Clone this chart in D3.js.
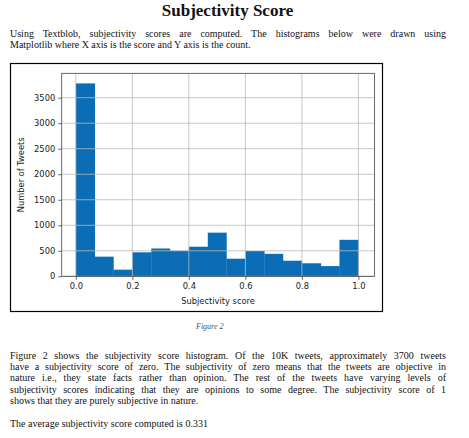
<!DOCTYPE html>
<html lang="en">
  <head>
    <script src="https://d3js.org/d3.v7.min.js"></script>
    <style>
      body {
        margin: 0;
        background: #fff;
        width: 469px;
        height: 438px;
        overflow: hidden;
        position: relative;
        font-family: "Liberation Serif", "Times New Roman", serif;
        color: #111;
      }
      svg {
        position: absolute;
        left: 0;
        top: 0;
      }
      .title {
        position: absolute;
        left: 0;
        width: 455px;
        text-align: center;
        font-weight: bold;
        font-size: 17px;
        line-height: 17px;
        top: 2px;
      }
      .para {
        position: absolute;
        left: 10px;
        width: 436px;
        font-size: 10px;
        line-height: 11.2px;
      }
      .para div {
        text-align: justify;
        text-align-last: justify;
        white-space: nowrap;
      }
      .para div.last {
        text-align-last: left;
      }
      .caption {
        position: absolute;
        left: 196px;
        top: 322px;
        font-size: 8px;
        font-style: italic;
        color: #44546a;
      }
    </style>
  </head>

  <body>
    <svg width="469" height="438"></svg>
    <div class="title">Subjectivity Score</div>
    <div class="para" id="p1"></div>
    <div class="caption">Figure 2</div>
    <div class="para" id="p2"></div>
    <div class="para" id="p3"></div>
    <script>
      // histogram bins (left edges + last right edge) and tweet counts
      var binEdges = [0.0, 0.067, 0.133, 0.2, 0.267, 0.333, 0.4, 0.467, 0.533, 0.6, 0.667, 0.733, 0.8, 0.867, 0.933, 1.0];
      var counts = [3780, 385, 130, 470, 545, 500, 580, 855, 345, 495, 440, 305, 255, 200, 715];
      var xTicks = [0.0, 0.2, 0.4, 0.6, 0.8, 1.0];
      var yTicks = [0, 500, 1000, 1500, 2000, 2500, 3000, 3500];

      var para1 = [
        "Using Textblob, subjectivity scores are computed. The histograms below were drawn using",
        "Matplotlib where X axis is the score and Y axis is the count."
      ];
      var para2 = [
        "Figure 2 shows the subjectivity score histogram. Of the 10K tweets, approximately 3700 tweets",
        "have a subjectivity score of zero. The subjectivity of zero means that the tweets are objective in",
        "nature i.e., they state facts rather than opinion. The rest of the tweets have varying levels of",
        "subjectivity scores indicating that they are opinions to some degree. The subjectivity score of 1",
        "shows that they are purely subjective in nature."
      ];
      var para3 = ["The average subjectivity score computed is 0.331"];

      //write the text lines, each line justified on its own
      function fillPara(id, lines, topPx) {
        d3.select(id)
          .style("top", topPx + "px")
          .selectAll("div")
          .data(lines)
          .enter()
          .append("div")
          .attr("class", function (d, i) {
            return i == lines.length - 1 ? "last" : "";
          })
          .text(function (d) {
            return d;
          });
      }
      fillPara("#p1", para1, 28);
      fillPara("#p2", para2, 350);
      fillPara("#p3", para3, 418);

      var svg = d3.select("svg");

      //black frame around the figure
      svg
        .append("rect")
        .attr("x", 10.5)
        .attr("y", 63.5)
        .attr("width", 372)
        .attr("height", 248)
        .attr("fill", "none")
        .attr("stroke", "#000")
        .attr("stroke-width", 1.2);

      //plot area (named so they don't clash with window.top)
      var pLeft = 61.7,
        pRight = 374.5,
        pTop = 73.3,
        pBottom = 276.3;

      var x = d3.scaleLinear().domain([-0.05, 1.057]).range([pLeft, pRight]);
      var y = d3.scaleLinear().domain([0, 3978]).range([pBottom, pTop]);

      var g = svg.append("g");

      //bars
      g.selectAll(".bar")
        .data(counts)
        .enter()
        .append("rect")
        .attr("class", "bar")
        .attr("x", function (d, i) {
          return x(binEdges[i]);
        })
        .attr("width", function (d, i) {
          return x(binEdges[i + 1]) - x(binEdges[i]) + 0.3;
        })
        .attr("y", function (d) {
          return y(d);
        })
        .attr("height", function (d) {
          return y(0) - y(d);
        })
        .attr("fill", "#0a6db5");

      //grid lines on top of the bars
      g.selectAll(".vgrid")
        .data(xTicks)
        .enter()
        .append("line")
        .attr("x1", function (d) {
          return x(d);
        })
        .attr("x2", function (d) {
          return x(d);
        })
        .attr("y1", pTop)
        .attr("y2", pBottom)
        .attr("stroke", "#b8b8b8")
        .attr("stroke-width", 0.8);

      g.selectAll(".hgrid")
        .data(yTicks)
        .enter()
        .append("line")
        .attr("x1", pLeft)
        .attr("x2", pRight)
        .attr("y1", function (d) {
          return y(d);
        })
        .attr("y2", function (d) {
          return y(d);
        })
        .attr("stroke", "#b8b8b8")
        .attr("stroke-width", 0.8);

      //frame of the axes
      g.append("rect")
        .attr("x", pLeft)
        .attr("y", pTop)
        .attr("width", pRight - pLeft)
        .attr("height", pBottom - pTop)
        .attr("fill", "none")
        .attr("stroke", "#444")
        .attr("stroke-width", 0.8);

      //axes
      var xAxis = g
        .append("g")
        .attr("transform", "translate(0," + pBottom + ")")
        .call(
          d3
            .axisBottom(x)
            .tickValues(xTicks)
            .tickFormat(d3.format(".1f"))
            .tickSize(3.5)
            .tickPadding(3)
        );
      var yAxis = g
        .append("g")
        .attr("transform", "translate(" + pLeft + ",0)")
        .call(
          d3
            .axisLeft(y)
            .tickValues(yTicks)
            .tickFormat(d3.format("d"))
            .tickSize(3.5)
            .tickPadding(3)
        );

      [xAxis, yAxis].forEach(function (a) {
        a.attr("font-family", "DejaVu Sans, sans-serif").attr("font-size", "8.3px");
        a.select(".domain").remove();
        a.selectAll(".tick line").attr("stroke", "#444").attr("stroke-width", 0.8);
        a.selectAll(".tick text").attr("fill", "#222");
      });

      //axis titles
      svg
        .append("text")
        .attr("x", (pLeft + pRight) / 2)
        .attr("y", 304)
        .attr("text-anchor", "middle")
        .attr("font-family", "DejaVu Sans, sans-serif")
        .attr("font-size", "8.3px")
        .attr("fill", "#222")
        .text("Subjectivity score");

      svg
        .append("text")
        .attr("transform", "translate(23.5," + (pTop + pBottom) / 2 + ") rotate(-90)")
        .attr("text-anchor", "middle")
        .attr("font-family", "DejaVu Sans, sans-serif")
        .attr("font-size", "8.3px")
        .attr("fill", "#222")
        .text("Number of Tweets");
    </script>
  </body>
</html>
